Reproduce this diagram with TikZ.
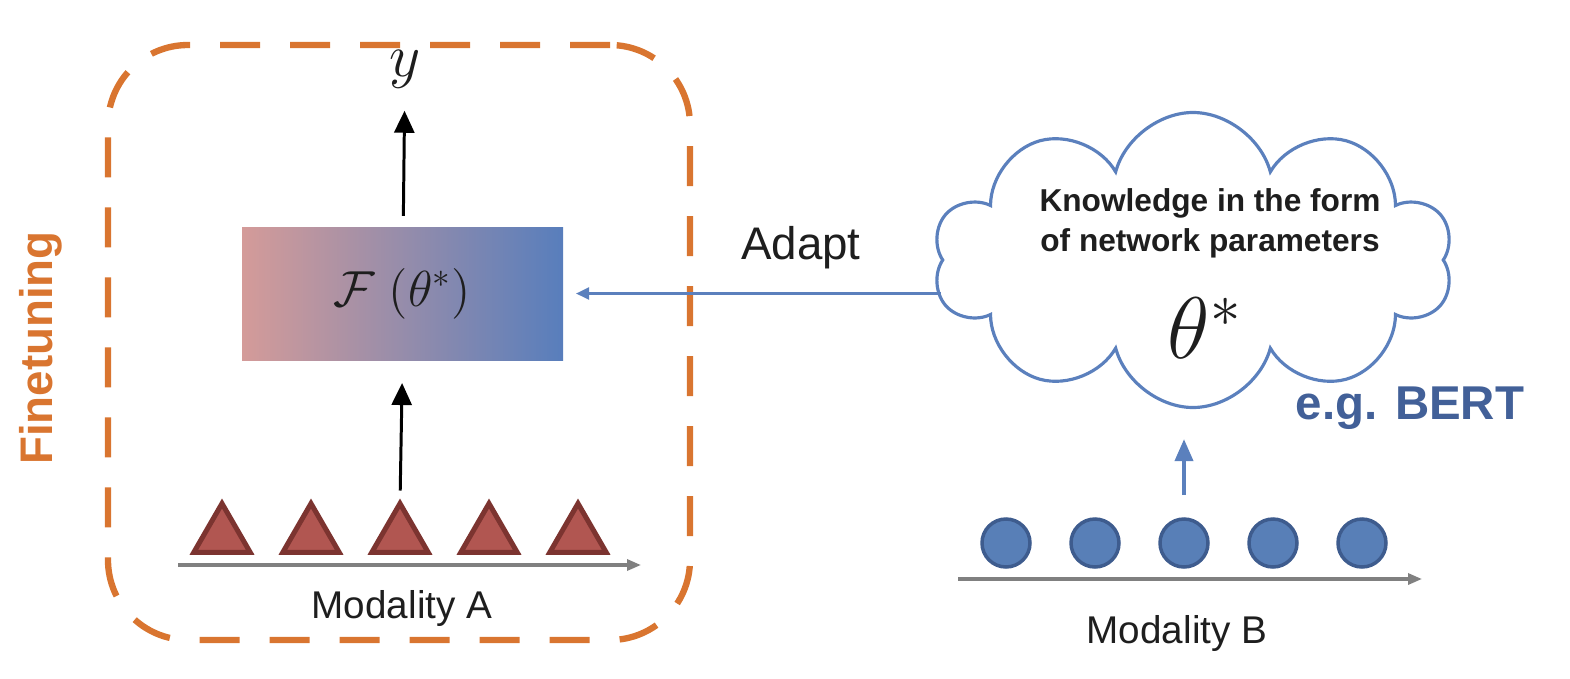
\documentclass[tikz,border=0pt]{standalone}
\usepackage{amsmath}
\usepackage{fontspec}
\setmainfont{Liberation Sans}
\usepackage{tikz}
\usetikzlibrary{shapes,shapes.geometric,shapes.symbols}
\usetikzlibrary{arrows,arrows.meta,positioning,calc}

\definecolor{finetune}{RGB}{217,117,48}
\definecolor{boxred}{RGB}{212,155,153}
\definecolor{boxblue}{RGB}{88,126,188}
\definecolor{triafill}{RGB}{177,86,81}
\definecolor{triadraw}{RGB}{124,52,48}
\definecolor{circfill}{RGB}{88,127,183}
\definecolor{circdraw}{RGB}{62,92,142}
\definecolor{cloudblue}{RGB}{91,128,189}
\definecolor{bertblue}{RGB}{66,96,152}
\definecolor{axisgray}{RGB}{128,128,128}
\definecolor{textdark}{RGB}{30,30,30}

\begin{document}
\begin{tikzpicture}[>=stealth', semithick, node distance=0.89cm,
	text=textdark]
	
	\tikzstyle{tokA}=[regular polygon, regular polygon sides=3,
	minimum size=0.65cm, inner sep=0pt, outer sep=0pt,
	fill=triafill, draw=triadraw, line width=0.5mm]
	\tikzstyle{tokB}=[circle, minimum size=0.48cm, inner sep=0pt,
	outer sep=0pt, fill=circfill, draw=circdraw, line width=0.35mm]
	\tikzstyle{axis}=[-{Triangle[length=1.4mm,width=1.1mm]}, axisgray,
	line width=0.9pt]
	\tikzstyle{modtext}=[font=\fontsize{11}{13}\selectfont]
	
	\useasboundingbox (0,0) rectangle (15.7,-6.78);
	
	%finetuning frame
	\node[draw=finetune, line width=1.8pt, rounded corners=0.8cm,
	dash pattern=on 0.4cm off 0.3cm, minimum width=5.82cm,
	minimum height=5.95cm, inner sep=0pt]
	(frame) at (3.99,-3.425) {};
	
	\node[rotate=90, text=finetune,
	font=\bfseries\fontsize{13}{13}\selectfont]
	(ftlabel) at (0.41,-3.48) {Finetuning};
	
	%model
	\node[minimum width=3.21cm, minimum height=1.33cm,
	left color=boxred, right color=boxblue, inner sep=0pt,
	font=\fontsize{14}{14}\selectfont]
	(model) at (4.025,-2.935) {$\mathcal{F}\ (\theta^*)$};
	
	\node[font=\fontsize{18}{18}\selectfont]
	(out) at (4.05,-0.69) {$y$};
	
	%modality A
	\node[tokA] (triA1) at (2.22,-5.36) {};
	\node[tokA] (triA2) [right of=triA1] {};
	\node[tokA] (triA3) [right of=triA2] {};
	\node[tokA] (triA4) [right of=triA3] {};
	\node[tokA] (triA5) [right of=triA4] {};
	
	\coordinate (axA0) at (1.78,-5.65);
	\coordinate (axA1) at (6.41,-5.65);
	\draw[axis] (axA0) -- (axA1);
	
	\node[modtext] (modA) at (4.02,-6.08) {Modality A};
	
	%modality B
	\node[tokB] (circB1) at (10.06,-5.43) {};
	\node[tokB] (circB2) [right of=circB1] {};
	\node[tokB] (circB3) [right of=circB2] {};
	\node[tokB] (circB4) [right of=circB3] {};
	\node[tokB] (circB5) [right of=circB4] {};
	
	\coordinate (axB0) at (9.58,-5.79);
	\coordinate (axB1) at (14.22,-5.79);
	\draw[axis] (axB0) -- (axB1);
	
	\node[modtext] (modB) at (11.77,-6.33) {Modality B};
	
	%knowledge cloud
	\node[cloud, cloud puffs=10, aspect=1.8, draw=cloudblue,
	fill=white, line width=0.9pt, minimum width=5.2cm,
	minimum height=2.95cm, inner sep=0pt]
	(know) at (11.93,-2.6) {};
	
	\node[align=center, font=\bfseries\fontsize{9}{11.3}\selectfont]
	(knowtext) at (12.1,-2.23)
	{Knowledge in the form\\of network parameters};
	
	\node[font=\fontsize{27}{27}\selectfont]
	(theta) at (12.05,-3.28) {$\theta^*$};
	
	\node[text=bertblue, font=\bfseries\fontsize{13.5}{14}\selectfont]
	(bert) at (14.1,-4.08) {e.g. BERT};
	
	\node[font=\fontsize{13}{13}\selectfont]
	(adapt) at (8.01,-2.48) {Adapt};
	
	%arrows
	\draw[-{Triangle[length=2.2mm,width=2mm]}, line width=0.85pt,
	shorten <=0.1cm, shorten >=0.1cm] (model) -- (out);
	
	\draw[-{Triangle[length=2.2mm,width=2mm]}, line width=0.85pt,
	shorten <=0.13cm, shorten >=0.22cm] (triA3.north) -- (model.south);
	
	\draw[-{Triangle[length=1.3mm,width=1.2mm]}, cloudblue,
	line width=0.7pt, shorten >=0.12cm]
	(know.west |- model) -- (model.east);
	
	\draw[-{Triangle[length=2.2mm,width=1.8mm]}, cloudblue,
	line width=1.1pt, shorten <=0.24cm, shorten >=0.3cm]
	(circB3.north) -- (circB3.north |- know.south);
	
\end{tikzpicture}
\end{document}
